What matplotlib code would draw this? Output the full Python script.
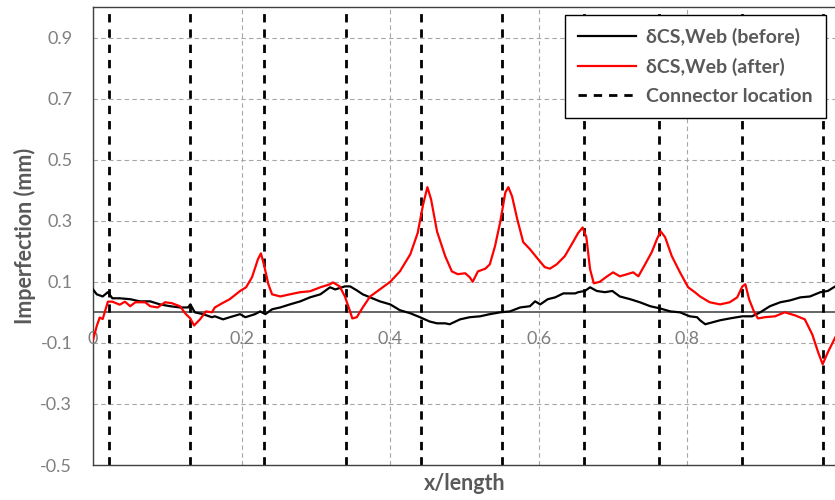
import matplotlib
matplotlib.use("Agg")
import matplotlib.pyplot as plt

plt.rcParams["font.family"] = ["Lato", "DejaVu Sans"]

# imperfection after welding (red), x/length vs mm
after_x = [0.000, 0.005, 0.009, 0.013, 0.020, 0.026, 0.036, 0.043, 0.050, 0.057,
           0.070, 0.077, 0.087, 0.097, 0.106, 0.117, 0.125, 0.131, 0.136, 0.144,
           0.152, 0.160, 0.164, 0.174, 0.184, 0.198, 0.206, 0.214, 0.222, 0.226,
           0.230, 0.236, 0.241, 0.252, 0.265, 0.279, 0.292, 0.306, 0.319, 0.323,
           0.332, 0.339, 0.345, 0.349, 0.355, 0.363, 0.373, 0.386, 0.400, 0.413,
           0.427, 0.437, 0.444, 0.450, 0.455, 0.463, 0.474, 0.483, 0.491, 0.501,
           0.507, 0.511, 0.518, 0.528, 0.534, 0.541, 0.548, 0.555, 0.559, 0.564,
           0.571, 0.579, 0.588, 0.598, 0.608, 0.615, 0.624, 0.635, 0.646, 0.653,
           0.659, 0.664, 0.669, 0.674, 0.682, 0.692, 0.700, 0.709, 0.719,
           0.727, 0.734, 0.743, 0.752, 0.759, 0.764, 0.770, 0.779, 0.790, 0.801,
           0.810, 0.817, 0.830, 0.844, 0.857, 0.867, 0.874, 0.878, 0.883, 0.890,
           0.895, 0.904, 0.918, 0.931, 0.945, 0.958, 0.968, 0.976, 0.982, 0.989,
           0.999]
after_y = [-0.090, -0.045, -0.017, -0.022, 0.035, 0.035, 0.025, 0.035, 0.020, 0.033,
           0.033, 0.020, 0.016, 0.033, 0.030, 0.020, -0.006, -0.020, -0.043, -0.023,
           0.003, 0.000, 0.016, 0.030, 0.043, 0.070, 0.082, 0.115, 0.174, 0.193,
           0.157, 0.092, 0.059, 0.052, 0.059, 0.066, 0.069, 0.082, 0.092, 0.098,
           0.085, 0.052, 0.010, -0.020, -0.016, 0.016, 0.052, 0.075, 0.100, 0.134,
           0.190, 0.260, 0.350, 0.410, 0.370, 0.265, 0.184, 0.134, 0.125, 0.128,
           0.115, 0.100, 0.134, 0.143, 0.157, 0.216, 0.295, 0.393, 0.410, 0.380,
           0.305, 0.230, 0.207, 0.177, 0.148, 0.143, 0.157, 0.184, 0.230, 0.260,
           0.278, 0.246, 0.141, 0.095, 0.100, 0.118, 0.131, 0.118, 0.125,
           0.131, 0.118, 0.157, 0.197, 0.240, 0.265, 0.246, 0.184, 0.131, 0.082,
           0.066, 0.052, 0.033, 0.026, 0.033, 0.049, 0.085, 0.092, 0.043, 0.000,
           -0.020, -0.016, -0.013, 0.000, -0.010, -0.023, -0.072, -0.131, -0.170, -0.131,
           -0.082]

# imperfection before welding (black)
before_x = [0.000, 0.005, 0.013, 0.020, 0.026, 0.036, 0.050, 0.063, 0.077, 0.090,
            0.104, 0.117, 0.128, 0.131, 0.137, 0.148, 0.160, 0.164, 0.175, 0.184,
            0.198, 0.205, 0.218, 0.225, 0.232, 0.241, 0.252, 0.265, 0.279, 0.292,
            0.306, 0.319, 0.326, 0.339, 0.346, 0.355, 0.363, 0.373, 0.386, 0.400,
            0.413, 0.427, 0.440, 0.453, 0.463, 0.474, 0.480, 0.494, 0.507, 0.521,
            0.534, 0.548, 0.561, 0.575, 0.588, 0.595, 0.602, 0.612, 0.622, 0.633,
            0.649, 0.653, 0.662, 0.669, 0.678, 0.689, 0.699, 0.709, 0.723, 0.736,
            0.750, 0.763, 0.777, 0.790, 0.803, 0.813, 0.817, 0.824, 0.844, 0.857,
            0.874, 0.887, 0.898, 0.911, 0.925, 0.938, 0.952, 0.965, 0.979, 0.989,
            0.999]
before_y = [0.075, 0.059, 0.052, 0.066, 0.046, 0.046, 0.043, 0.036, 0.036, 0.026,
            0.020, 0.016, 0.016, 0.026, 0.000, -0.006, -0.016, -0.013, -0.023, -0.016,
            -0.006, -0.016, -0.006, 0.003, -0.006, 0.010, 0.016, 0.026, 0.036, 0.049,
            0.059, 0.082, 0.075, 0.085, 0.085, 0.072, 0.059, 0.049, 0.036, 0.026,
            0.007, -0.003, -0.016, -0.030, -0.036, -0.036, -0.039, -0.023, -0.016, -0.013,
            -0.006, 0.000, 0.003, 0.016, 0.020, 0.036, 0.026, 0.043, 0.049, 0.062,
            0.062, 0.066, 0.070, 0.082, 0.070, 0.066, 0.070, 0.052, 0.043, 0.033,
            0.020, 0.013, 0.003, 0.000, -0.013, -0.016, -0.026, -0.039, -0.026, -0.020,
            -0.013, -0.013, 0.000, 0.020, 0.033, 0.039, 0.049, 0.052, 0.066, 0.070,
            0.085]

connectors = [0.021, 0.131, 0.230, 0.340, 0.441, 0.551, 0.661, 0.762, 0.873, 0.983]

y_ticks = [-0.5, -0.3, -0.1, 0.1, 0.3, 0.5, 0.7, 0.9]
x_ticks = [0.0, 0.2, 0.4, 0.6, 0.8]
x_tick_labels = ["0", "0.2", "0.4", "0.6", "0.8"]

GRAY = "#7f7f7f"
DARK = "#595959"
TICK_FS = 13

fig = plt.figure(figsize=(8.35, 5.0), dpi=100)
ax = fig.add_axes([0.1114, 0.07, 0.8898, 0.916])

ax.set_xlim(0, 1)
ax.set_ylim(-0.5, 1.0)

ax.set_yticks(y_ticks)
ax.set_yticklabels([f"{v:.1f}" for v in y_ticks])
ax.set_xticks(x_ticks)
ax.set_xticklabels([])
ax.tick_params(axis="both", length=0, labelsize=TICK_FS, labelcolor=GRAY)
ax.tick_params(axis="y", pad=15)
ax.grid(True, linestyle=(0, (4, 3)), color="#a6a6a6", linewidth=0.8)
ax.set_axisbelow(True)

for sp in ax.spines.values():
    sp.set_color("#404040")
    sp.set_linewidth(1.0)

ax.axhline(0, color=DARK, linewidth=1.3, zorder=1)

for xv, lab in zip(x_ticks, x_tick_labels):
    ax.text(xv, -0.088, lab, ha="center", va="center", fontsize=TICK_FS, color=GRAY)

ax.plot(before_x, before_y, color="black", linewidth=1.6, label="δCS,Web (before)", zorder=3)
ax.plot(after_x, after_y, color="#ff0000", linewidth=1.6, label="δCS,Web (after)", zorder=3)

for i, cx in enumerate(connectors):
    ax.axvline(cx, color="black", linewidth=2.0, linestyle=(0, (3.0, 2.5)),
               label="Connector location" if i == 0 else None, zorder=2)

leg = ax.legend(loc="upper right", bbox_to_anchor=(0.9865, 0.9825), fontsize=14,
                frameon=True, fancybox=False, framealpha=1, edgecolor="black",
                handlelength=3.0, handletextpad=0.5, borderpad=0.68,
                labelspacing=0.6, borderaxespad=0)
leg.get_frame().set_linewidth(1.0)
for t in leg.get_texts():
    t.set_color(DARK)
    t.set_fontweight("bold")

ax.set_ylabel("Imperfection (mm)", fontsize=15.5, fontweight="bold", color=DARK, labelpad=3)
ax.set_xlabel("x/length", fontsize=15.5, fontweight="bold", color=DARK, labelpad=2)

fig.savefig("out.png", dpi=100)
